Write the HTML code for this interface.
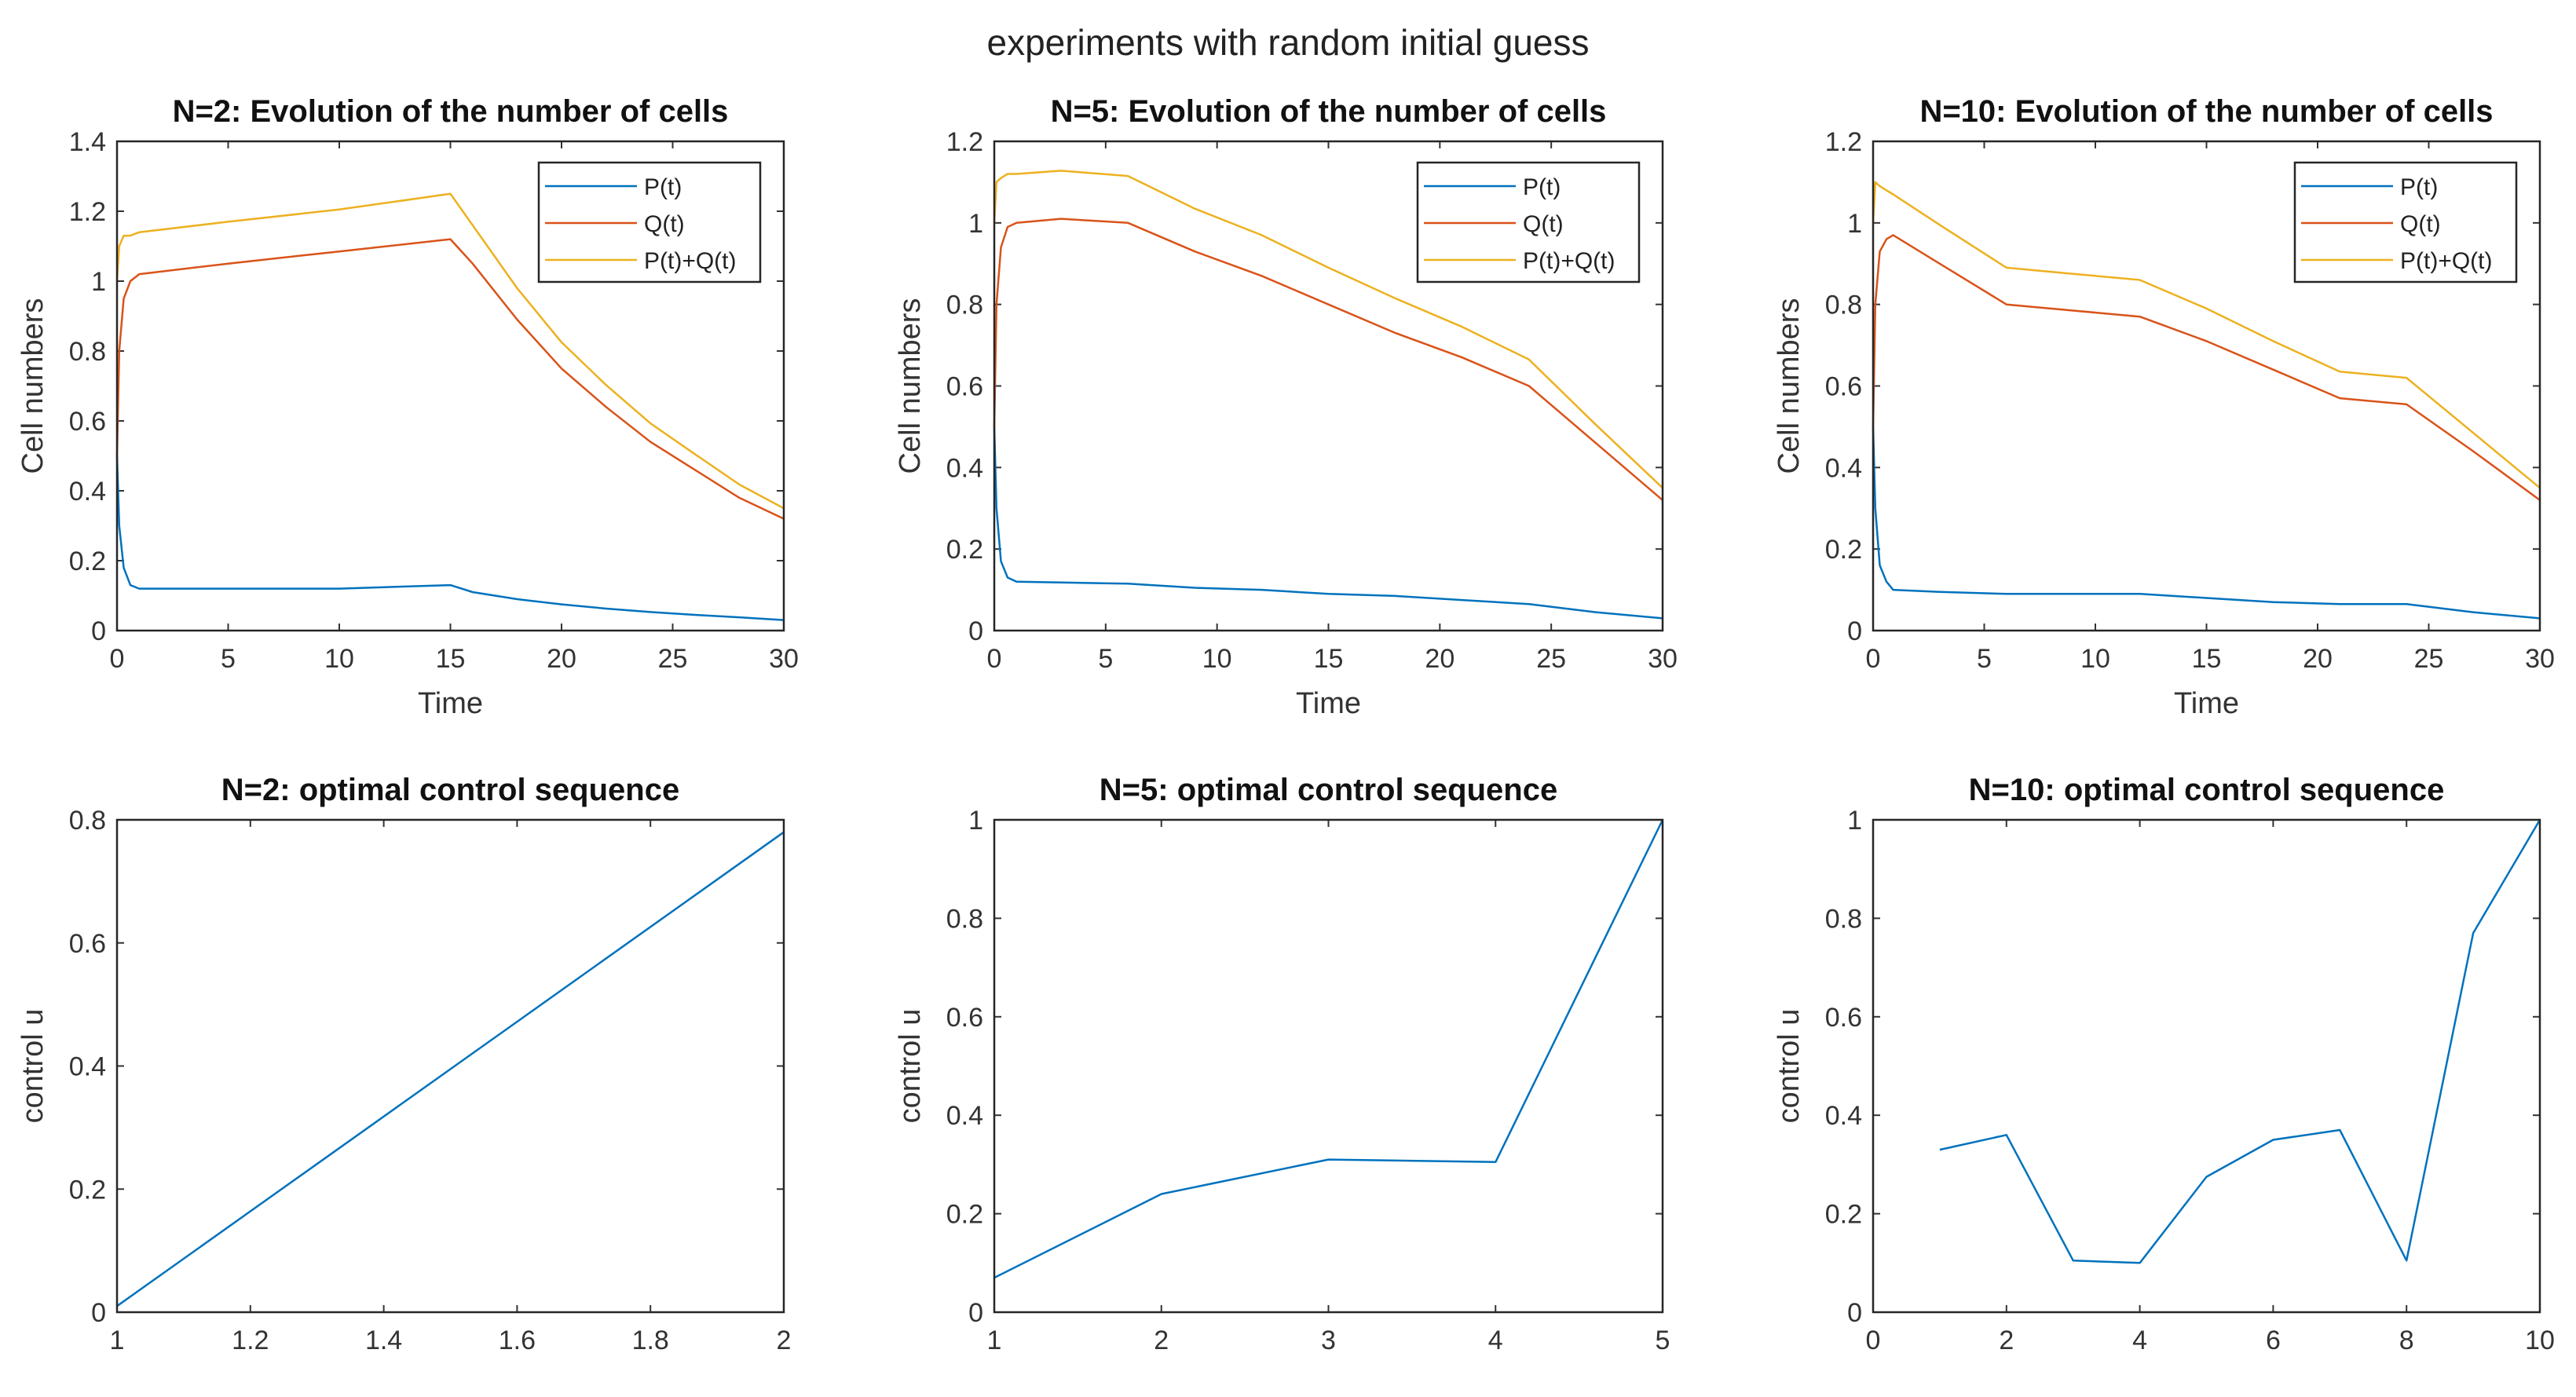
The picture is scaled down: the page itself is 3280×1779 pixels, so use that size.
<!DOCTYPE html>
<html><head><meta charset="utf-8">
<style>
html,body{margin:0;padding:0;background:#fff;}
svg{display:block;font-family:"Liberation Sans",Arial,sans-serif;}
</style></head>
<body>
<svg id="fig" width="3280" height="1779" viewBox="0 0 3280 1779">
<rect width="3280" height="1779" fill="#fff"/>
<text x="1640" y="70" font-size="46" text-anchor="middle" fill="#222">experiments with random initial guess</text>
</svg>
<script>
// ---- data ----
const t2 = [0,0.1,0.3,0.6,1,5,10,15,16,18,20,22,24,26,28,30];
const p2 = [0.5,0.3,0.18,0.13,0.12,0.12,0.12,0.13,0.11,0.09,0.075,0.063,0.053,0.045,0.038,0.03];
const q2 = [0.5,0.8,0.95,1.0,1.02,1.05,1.085,1.12,1.05,0.89,0.75,0.64,0.54,0.46,0.38,0.32];
const t5 = [0,0.1,0.3,0.6,1,3,6,9,12,15,18,21,24,27,30];
const p5 = [0.5,0.3,0.17,0.13,0.12,0.118,0.115,0.105,0.1,0.09,0.085,0.075,0.065,0.045,0.03];
const q5 = [0.5,0.8,0.94,0.99,1.0,1.01,1.0,0.93,0.87,0.8,0.73,0.67,0.6,0.46,0.32];
const t10 = [0,0.1,0.3,0.6,0.9,3,6,9,12,15,18,21,24,27,30];
const p10 = [0.5,0.3,0.16,0.12,0.1,0.095,0.09,0.09,0.09,0.08,0.07,0.065,0.065,0.045,0.03];
const q10 = [0.5,0.8,0.93,0.96,0.97,0.9,0.8,0.785,0.77,0.71,0.64,0.57,0.555,0.44,0.32];
const k2 = [1,2];
const u2 = [0.01,0.78];
const k5 = [1,2,3,4,5];
const u5 = [0.07,0.24,0.31,0.305,1.0];
const k10 = [1,2,3,4,5,6,7,8,9,10];
const u10 = [0.33,0.36,0.105,0.1,0.275,0.35,0.37,0.105,0.77,1.0];
const xt30 = [0,5,10,15,20,25,30];
const yt14 = [0,0.2,0.4,0.6,0.8,1,1.2,1.4];
const yt12 = [0,0.2,0.4,0.6,0.8,1,1.2];
const xt2 = [1,1.2,1.4,1.6,1.8,2];
const yt08 = [0,0.2,0.4,0.6,0.8];
const xt5 = [1,2,3,4,5];
const yt1 = [0,0.2,0.4,0.6,0.8,1];
const xt10 = [0,2,4,6,8,10];

const NS="http://www.w3.org/2000/svg";
const svg=document.getElementById('fig');
function mk(tag,attrs,parent){const e=document.createElementNS(NS,tag);for(const k in attrs)e.setAttribute(k,attrs[k]);(parent||svg).appendChild(e);return e;}
const C1='#0072BD',C2='#D95319',C3='#EDB120';

function axes(cfg){
  const g=mk('g',{});
  
  
  const x0=cfg.x0,x1=cfg.x1,y0=cfg.y0,y1=cfg.y1,xmin=cfg.xmin,xmax=cfg.xmax,ymin=cfg.ymin,ymax=cfg.ymax;
  const sx=v=>x0+(v-xmin)/(xmax-xmin)*(x1-x0);
  const sy=v=>y1-(v-ymin)/(ymax-ymin)*(y1-y0);
  const tt=mk('text',{x:(x0+x1)/2,y:y0-25,'font-size':40,'font-weight':'bold','text-anchor':'middle',fill:'#111'},g);
  tt.textContent=cfg.title;
  
  
  cfg.xt.forEach(v=>{
    const x=sx(v);
    mk('line',{x1:x,x2:x,y1:y1,y2:y1-9,stroke:'#333','stroke-width':2},g);
    mk('line',{x1:x,x2:x,y1:y0,y2:y0+9,stroke:'#333','stroke-width':2},g);
    const t=mk('text',{x:x,y:y1+47,'font-size':34,'text-anchor':'middle',fill:'#333'},g);
    t.textContent=String(v);
    
    
  });
  cfg.yt.forEach(v=>{
    const y=sy(v);
    mk('line',{x1:x0,x2:x0+9,y1:y,y2:y,stroke:'#333','stroke-width':2},g);
    mk('line',{x1:x1,x2:x1-9,y1:y,y2:y,stroke:'#333','stroke-width':2},g);
    const t=mk('text',{x:x0-14,y:y+12,'font-size':34,'text-anchor':'end',fill:'#333'},g);
    t.textContent=String(v);
    
    
  });
  if(cfg.xlabel){
    const t=mk('text',{x:(x0+x1)/2,y:y1+105,'font-size':38,'text-anchor':'middle',fill:'#333'},g);
    t.textContent=cfg.xlabel;
    
    
  }
  const yl=mk('text',{x:0,y:0,'font-size':38,'text-anchor':'middle',fill:'#333',transform:'translate('+(x0-95)+','+((y0+y1)/2)+') rotate(-90)'},g);
  yl.textContent=cfg.ylabel;
  
  
  cfg.series.forEach(s=>{
    const d=s.x.map((v,i)=>(i?'L':'M')+sx(v).toFixed(1)+','+sy(s.y[i]).toFixed(1)).join(' ');
    const p=mk('path',{d:d,fill:'none',stroke:s.c,'stroke-width':2.5,'stroke-linejoin':'round'},g);
    
    
  });
  mk('rect',{x:x0,y:y0,width:x1-x0,height:y1-y0,fill:'none',stroke:'#262626','stroke-width':2.5},g);
  if(cfg.legend){
    const lx=x1-312, ly=y0+27;
    const lg=mk('g',{},g);
    
    
    mk('rect',{x:lx,y:ly,width:282,height:152,fill:'#fff',stroke:'#262626','stroke-width':2.5},lg);
    const labs=['P(t)','Q(t)','P(t)+Q(t)'],cols=[C1,C2,C3];
    labs.forEach((l,i)=>{
      const yy=ly+30+i*47;
      mk('line',{x1:lx+8,x2:lx+125,y1:yy,y2:yy,stroke:cols[i],'stroke-width':2.5},lg);
      const t=mk('text',{x:lx+134,y:yy+11,'font-size':30,fill:'#222'},lg);
      t.textContent=l;
      
      
    });
  }
}
const add=(a,b)=>a.map((v,i)=>v+b[i]);
const colsX=[[149,998],[1266,2117],[2385,3234]];
const rowTop=[180,803], rowBot=[1044,1671];
axes({name:'plot-n2-cells',title:'N=2: Evolution of the number of cells',x0:colsX[0][0],x1:colsX[0][1],y0:rowTop[0],y1:rowTop[1],xmin:0,xmax:30,ymin:0,ymax:1.4,xt:xt30,yt:yt14,xlabel:'Time',ylabel:'Cell numbers',legend:true,
  series:[{x:t2,y:p2,c:C1,n:'p-line'},{x:t2,y:q2,c:C2,n:'q-line'},{x:t2,y:add(p2,q2),c:C3,n:'sum-line'}]});
axes({name:'plot-n5-cells',title:'N=5: Evolution of the number of cells',x0:colsX[1][0],x1:colsX[1][1],y0:rowTop[0],y1:rowTop[1],xmin:0,xmax:30,ymin:0,ymax:1.2,xt:xt30,yt:yt12,xlabel:'Time',ylabel:'Cell numbers',legend:true,
  series:[{x:t5,y:p5,c:C1,n:'p-line'},{x:t5,y:q5,c:C2,n:'q-line'},{x:t5,y:add(p5,q5),c:C3,n:'sum-line'}]});
axes({name:'plot-n10-cells',title:'N=10: Evolution of the number of cells',x0:colsX[2][0],x1:colsX[2][1],y0:rowTop[0],y1:rowTop[1],xmin:0,xmax:30,ymin:0,ymax:1.2,xt:xt30,yt:yt12,xlabel:'Time',ylabel:'Cell numbers',legend:true,
  series:[{x:t10,y:p10,c:C1,n:'p-line'},{x:t10,y:q10,c:C2,n:'q-line'},{x:t10,y:add(p10,q10),c:C3,n:'sum-line'}]});
axes({name:'plot-n2-control',title:'N=2: optimal control sequence',x0:colsX[0][0],x1:colsX[0][1],y0:rowBot[0],y1:rowBot[1],xmin:1,xmax:2,ymin:0,ymax:0.8,xt:xt2,yt:yt08,ylabel:'control u',
  series:[{x:k2,y:u2,c:C1,n:'control-line'}]});
axes({name:'plot-n5-control',title:'N=5: optimal control sequence',x0:colsX[1][0],x1:colsX[1][1],y0:rowBot[0],y1:rowBot[1],xmin:1,xmax:5,ymin:0,ymax:1,xt:xt5,yt:yt1,ylabel:'control u',
  series:[{x:k5,y:u5,c:C1,n:'control-line'}]});
axes({name:'plot-n10-control',title:'N=10: optimal control sequence',x0:colsX[2][0],x1:colsX[2][1],y0:rowBot[0],y1:rowBot[1],xmin:0,xmax:10,ymin:0,ymax:1,xt:xt10,yt:yt1,ylabel:'control u',
  series:[{x:k10,y:u10,c:C1,n:'control-line'}]});
</script>
</body></html>
